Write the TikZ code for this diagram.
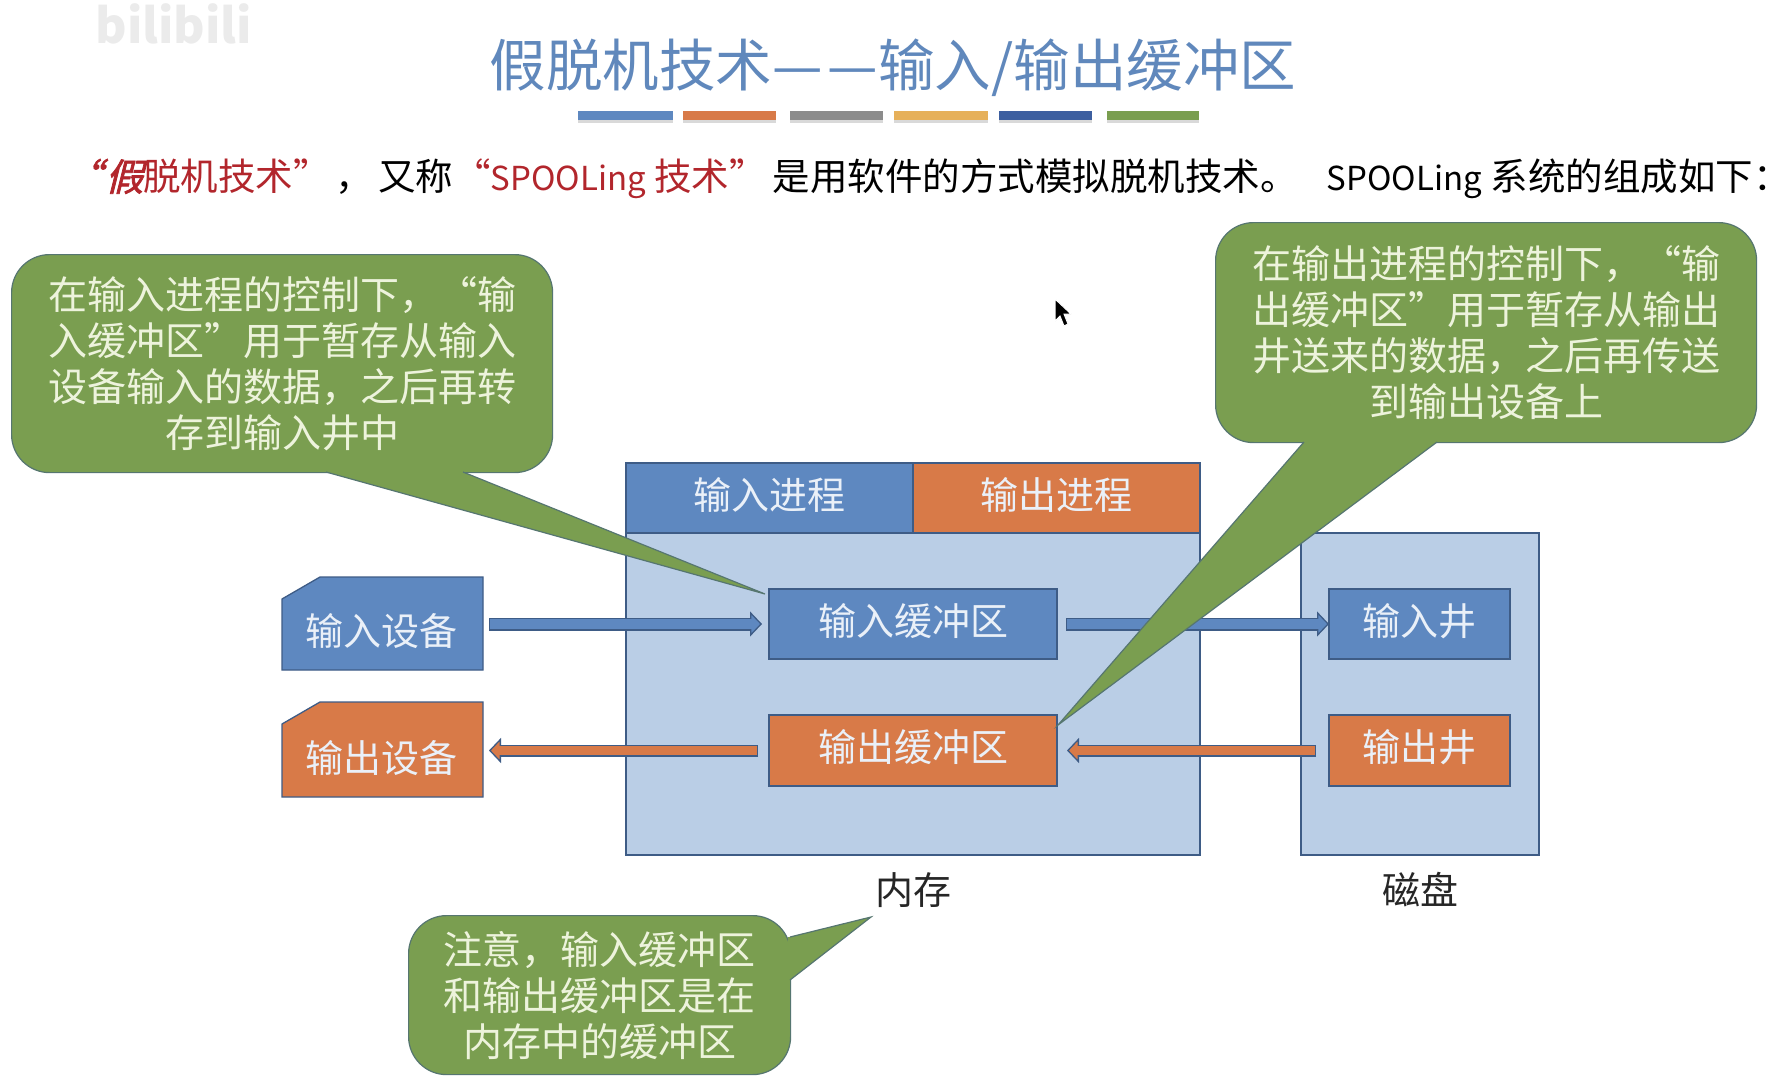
\documentclass[tikz,border=0pt]{standalone}
\usepackage{fontspec}
\setmainfont{Noto Sans CJK SC}
\newfontfamily\slantfont[FakeSlant=0.25,FakeBold=2]{Noto Sans CJK SC}
\usepackage{tikz}
\usetikzlibrary{arrows.meta, positioning, calc}
\definecolor{inblue}{HTML}{5E88C0}
\definecolor{outorange}{HTML}{D87A48}
\definecolor{palebox}{HTML}{BACEE6}
\definecolor{edgeblue}{HTML}{3E5C86}
\definecolor{notegreen}{HTML}{7A9E50}
\definecolor{notetext}{HTML}{EDF3DC}
\definecolor{boxtext}{HTML}{EAF0F8}
\definecolor{headred}{HTML}{B2262C}
\definecolor{titleblue}{HTML}{6088BC}
\definecolor{bargold}{HTML}{E6B05A}
\definecolor{barnavy}{HTML}{3D5FA0}
\newcommand{\spool}{{\fontsize{33}{44}\selectfont SPOOLing}}

\begin{document}
\begin{tikzpicture}[
	x=1pt, y=-1pt,
	box/.style={draw=edgeblue, line width=1.3pt, align=center, inner sep=0pt, outer sep=0pt, text depth=10pt, text=boxtext, font=\fontsize{38}{46}\selectfont},
	inbox/.style={box, fill=inblue},
	outbox/.style={box, fill=outorange},
	pale/.style={draw=edgeblue, line width=1.3pt, fill=palebox, inner sep=0pt, outer sep=0pt},
	device/.style={draw=edgeblue, line width=1.3pt},
	label/.style={font=\fontsize{38}{46}\selectfont, text=black!85},
	note/.style={draw=edgeblue!60!notegreen, line width=1.2pt, fill=notegreen, rounded corners=38pt, align=center, inner sep=0pt, text=notetext, font=\fontsize{39}{46}\selectfont},
	tipfill/.style={fill=notegreen},
	tipline/.style={draw=edgeblue!60!notegreen, line width=1.2pt, line join=miter},
	flowin/.style 2 args={line width=13pt, draw=edgeblue, -{Triangle[length=12pt, width=25pt, line width=1.3pt, fill=inblue]}, shorten <=#1pt, shorten >=#2pt,
		postaction={draw=inblue, line width=10.4pt, -, shorten <={(#1+1.3)*1pt}, shorten >={(#2+10)*1pt}}},
	flowout/.style 2 args={line width=12pt, draw=edgeblue, -{Triangle[length=12pt, width=25pt, line width=1.3pt, fill=outorange]}, shorten <=#1pt, shorten >=#2pt,
		postaction={draw=outorange, line width=9.4pt, -, shorten <={(#1+1.3)*1pt}, shorten >={(#2+10)*1pt}}}
]
\useasboundingbox (0,0) rectangle (1791,1079);
\fill[white] (0,0) rectangle (1791,1079);

% Heading
\node[text=black!8, font=\fontsize{48}{48}\bfseries\selectfont, anchor=west] (mark) at (92,24) {bilibili};
\node[text=titleblue, font=\fontsize{56.5}{60}\selectfont] (title) at (893,68) {假脱机技术—\kern5pt—输入/输出缓冲区};
\foreach \xa/\xb/\barcol in {578/673/inblue, 683/776/outorange, 790/883/black!45, 894/988/bargold, 999/1092/barnavy, 1107/1199/notegreen} {
	\fill[black!15] (\xa,114) rectangle (\xb,123);
	\fill[\barcol] (\xa,111) rectangle (\xb,120);
}
\node[anchor=west, inner sep=0pt, font=\fontsize{37.5}{44}\selectfont] (intro) at (64,179) {\textcolor{headred}{{\slantfont “}\kern4pt{\slantfont 假}脱机技术”}\kern5pt ，\kern5pt 又称\textcolor{headred}{“\spool{} 技术”}\kern6pt 是用软件的方式模拟脱机技术。\kern29pt \spool{} 系统的组成如下：};

% Memory and disk
\node[pale, minimum width=574pt, minimum height=322pt, anchor=north west] (memory) at (626,533) {};
\node[pale, minimum width=238pt, minimum height=322pt, anchor=north west] (disk) at (1301,533) {};
\node[inbox, minimum width=287pt, minimum height=70pt, anchor=south west] (inproc) at (memory.north west) {输入进程};
\node[outbox, minimum width=287pt, minimum height=70pt, right=0pt of inproc] (outproc) {输出进程};
\node[inbox, minimum width=288pt, minimum height=70pt, anchor=north west] (inbuf) at (769,589) {输入缓冲区};
\node[outbox, minimum width=288pt, minimum height=71pt, below=56pt of inbuf] (outbuf) {输出缓冲区};
\node[inbox, minimum width=181pt, minimum height=70pt, anchor=north west] (inwell) at (1329,589) {输入井};
\node[outbox, minimum width=181pt, minimum height=71pt, below=56pt of inwell] (outwell) {输出井};
\node[label, below=14pt of memory] (memlabel) {内存};
\node[label, below=14pt of disk] (disklabel) {磁盘};

% Devices
\draw[device, fill=inblue] (282,670) -- (282,599) -- (320,577) -- (483,577) -- (483,670) -- cycle;
\draw[device, fill=outorange] (282,797) -- (282,724) -- (320,702) -- (483,702) -- (483,797) -- cycle;
\node[text=boxtext, font=\fontsize{38}{46}\selectfont] (intext) at (381,631) {输入设备};
\node[text=boxtext, font=\fontsize{38}{46}\selectfont] (outtext) at (381,758) {输出设备};

% Edges
\coordinate (inedge) at (483,0 |- inbuf.west);
\coordinate (outedge) at (483,0 |- outbuf.west);
\draw[flowin={6}{7}] (inedge) -- (inbuf.west);
\draw[flowin={9}{0}] (inbuf.east) -- (inwell.west);
\draw[flowout={13}{10}] (outwell.west) -- (outbuf.east);
\draw[flowout={11}{6}] (outbuf.west) -- (outedge);

% Notes
\coordinate (tipleft) at (765,594);
\coordinate (tipright) at (1058,725);
\coordinate (tipdown) at (871,917);
\node[note, minimum width=541pt, minimum height=218pt, anchor=north west] (noteleft) at (11,254) {在输入进程的控制下，“输\\入缓冲区”用于暂存从输入\\设备输入的数据，之后再转\\存到输入井中};
\node[note, minimum width=541pt, minimum height=220pt, anchor=north west] (noteright) at (1215,222) {在输出进程的控制下，“输\\出缓冲区”用于暂存从输出\\井送来的数据，之后再传送\\到输出设备上};
\node[note, minimum width=382pt, minimum height=159pt, anchor=north west] (notedown) at (408,915) {注意，输入缓冲区\\和输出缓冲区是在\\内存中的缓冲区};
\fill[tipfill] (326,470) -- (326,472) -- (tipleft) -- (463,472) -- (463,470) -- cycle;
\draw[tipline] (326,472) -- (tipleft) -- (463,472);
\fill[tipfill] (1304,440) -- (1304,442) -- (tipright) -- (1437,442) -- (1437,440) -- cycle;
\draw[tipline] (1304,442) -- (tipright) -- (1437,442);
\fill[tipfill] (788,937) -- (790,937) -- (tipdown) -- (790,980) -- (788,980) -- cycle;
\draw[tipline] (790,937) -- (tipdown) -- (790,980);

% Pointer
\draw[fill=black, draw=white, line width=1pt] (1055,299) -- (1055,321) -- (1060,316) -- (1064,326) -- (1068,324) -- (1064,314) -- (1071,314) -- cycle;

\end{tikzpicture}
\end{document}
